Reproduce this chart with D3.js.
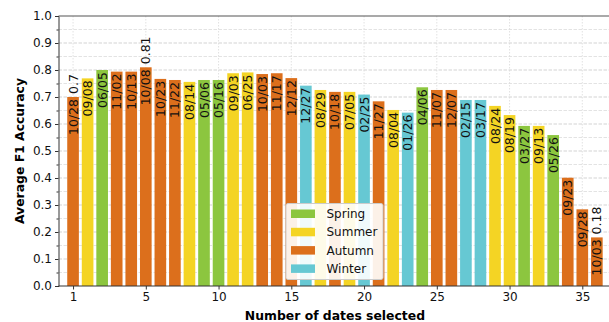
<!DOCTYPE html>
<html>
<head>
<meta charset="utf-8">
<script src="https://cdn.jsdelivr.net/npm/d3@7"></script>
<style>
  body { margin: 0; background: #fff; }
  text { font-family: "DejaVu Sans", sans-serif; }
</style>
</head>
<body>
<script>
// data
var dates = ["10/28", "09/08", "06/05", "11/02", "10/13", "10/08", "10/23", "11/22", "08/14",
  "05/06", "05/16", "09/03", "06/25", "10/03", "11/17", "12/12", "12/27", "08/29", "10/18",
  "07/05", "02/25", "11/27", "08/04", "01/26", "04/06", "11/07", "12/07", "02/15", "03/17",
  "08/24", "08/19", "03/27", "09/13", "05/26", "09/23", "09/28", "10/03"];

var accuracy = [0.70, 0.769, 0.80, 0.794, 0.794, 0.81, 0.767, 0.763, 0.756,
  0.763, 0.763, 0.788, 0.791, 0.785, 0.788, 0.770, 0.742, 0.726, 0.719,
  0.719, 0.709, 0.684, 0.652, 0.642, 0.736, 0.726, 0.726, 0.689, 0.689,
  0.667, 0.633, 0.593, 0.593, 0.559, 0.401, 0.284, 0.18];

var seasons = ["Autumn", "Summer", "Spring", "Autumn", "Autumn", "Autumn", "Autumn", "Autumn", "Summer",
  "Spring", "Spring", "Summer", "Summer", "Autumn", "Autumn", "Autumn", "Winter", "Summer", "Autumn",
  "Summer", "Winter", "Autumn", "Summer", "Winter", "Spring", "Autumn", "Autumn", "Winter", "Winter",
  "Summer", "Summer", "Spring", "Summer", "Spring", "Autumn", "Autumn", "Autumn"];

var seasonNames = ["Spring", "Summer", "Autumn", "Winter"];
var seasonColors = ["#8cc63f", "#f4d424", "#dc6f1c", "#66c8d3"];

var xTickPos = [0, 5, 10, 15, 20, 25, 30, 35];
var xTickLabels = ["1", "5", "10", "15", "20", "25", "30", "35"];
var valueLabels = [0, 5, 36]; // bars that get a value printed above them

var width = 609, height = 322;
var padL = 58.5, padT = 16, padB = 286;

var svg = d3.select("body").append("svg")
  .attr("width", width)
  .attr("height", height);

var x = d3.scaleLinear().domain([-1, 37]).range([padL, padL + 38 * 14.55]);
var y = d3.scaleLinear().domain([0, 1]).range([padB, padT]);
var color = d3.scaleOrdinal().domain(seasonNames).range(seasonColors);

// grid lines
var g = svg.append("g");
g.selectAll(".hgrid")
  .data(d3.range(1, 20).map(function (i) { return i * 0.05; }))
  .enter().append("line")
  .attr("x1", padL).attr("x2", width)
  .attr("y1", function (d) { return y(d); })
  .attr("y2", function (d) { return y(d); })
  .attr("stroke", function (d, i) { return i % 2 == 1 ? "#c8c8c8" : "#dcdcdc"; })
  .attr("stroke-width", 0.8)
  .attr("stroke-dasharray", "3.5,1.5");

g.selectAll(".vgrid")
  .data(xTickPos)
  .enter().append("line")
  .attr("x1", function (d) { return x(d); })
  .attr("x2", function (d) { return x(d); })
  .attr("y1", padT).attr("y2", padB)
  .attr("stroke", "#dadada")
  .attr("stroke-width", 0.8)
  .attr("stroke-dasharray", "1.5,1.5");

// bars
var barW = x(0.8) - x(0);
svg.selectAll(".bar")
  .data(accuracy)
  .enter().append("rect")
  .attr("x", function (d, i) { return x(i) - barW / 2; })
  .attr("y", function (d) { return y(d); })
  .attr("width", barW)
  .attr("height", function (d) { return y(0) - y(d); })
  .attr("fill", function (d, i) { return color(seasons[i]); });

// date labels inside bars
svg.selectAll(".date")
  .data(accuracy)
  .enter().append("text")
  .attr("transform", function (d, i) {
    return "translate(" + (x(i) + 4.5) + "," + (y(d) + 2) + ") rotate(-90)";
  })
  .attr("text-anchor", "end")
  .attr("font-size", "12.5px")
  .attr("fill", "#111")
  .text(function (d, i) { return dates[i]; });

// value labels above some bars
svg.selectAll(".val")
  .data(valueLabels)
  .enter().append("text")
  .attr("transform", function (i) {
    return "translate(" + (x(i) + 4.5) + "," + (y(accuracy[i]) - 3) + ") rotate(-90)";
  })
  .attr("text-anchor", "start")
  .attr("font-size", "12.5px")
  .attr("fill", "#111")
  .text(function (i) { return String(Math.round(accuracy[i] * 100) / 100); });

// axes
var yAxis = d3.axisLeft(y).tickValues(d3.range(0, 11).map(function (i) { return i / 10; }))
  .tickFormat(d3.format(".1f")).tickSize(3.5).tickPadding(3);
svg.append("g").attr("transform", "translate(" + padL + ",0)").call(yAxis);
var yMinor = d3.axisLeft(y).tickValues(d3.range(0, 10).map(function (i) { return i / 10 + 0.05; }))
  .tickFormat("").tickSize(2);
svg.append("g").attr("transform", "translate(" + padL + ",0)").call(yMinor)
  .select(".domain").remove();

var xAxis = d3.axisBottom(x).tickValues(xTickPos)
  .tickFormat(function (d, i) { return xTickLabels[i]; }).tickSize(3.5).tickPadding(3);
var xg = svg.append("g").attr("transform", "translate(0," + padB + ")").call(xAxis);
xg.select(".domain").attr("d", "M" + padL + ",0H" + width);

svg.selectAll(".tick text").attr("font-size", "12px").attr("fill", "#111")
  .attr("font-family", "DejaVu Sans");
svg.selectAll(".domain, .tick line").attr("stroke", "#333").attr("stroke-width", 1);

// top spine
svg.append("line")
  .attr("x1", padL).attr("x2", width)
  .attr("y1", padT).attr("y2", padT)
  .attr("stroke", "#555").attr("stroke-width", 1.2);

// axis titles
svg.append("text")
  .attr("x", (padL + x(37)) / 2).attr("y", 320)
  .attr("text-anchor", "middle")
  .attr("font-size", "12.4px").attr("font-weight", "bold")
  .text("Number of dates selected");

svg.append("text")
  .attr("transform", "translate(24," + (padT + padB) / 2 + ") rotate(-90)")
  .attr("text-anchor", "middle")
  .attr("font-size", "12.4px").attr("font-weight", "bold")
  .text("Average F1 Accuracy");

// legend
var lg = svg.append("g").attr("transform", "translate(286,203.5)");
lg.append("rect")
  .attr("width", 97).attr("height", 76)
  .attr("rx", 2)
  .attr("fill", "#fff").attr("fill-opacity", 0.9)
  .attr("stroke", "#cccccc");

var item = lg.selectAll(".item")
  .data(seasonNames)
  .enter().append("g")
  .attr("transform", function (d, i) { return "translate(5," + (6 + i * 18.3) + ")"; });
item.append("rect")
  .attr("width", 24).attr("height", 8.5)
  .attr("fill", function (d) { return color(d); });
item.append("text")
  .attr("x", 35.5).attr("y", 8.5)
  .attr("font-size", "12px").attr("fill", "#111")
  .text(function (d) { return d; });
</script>
</body>
</html>
